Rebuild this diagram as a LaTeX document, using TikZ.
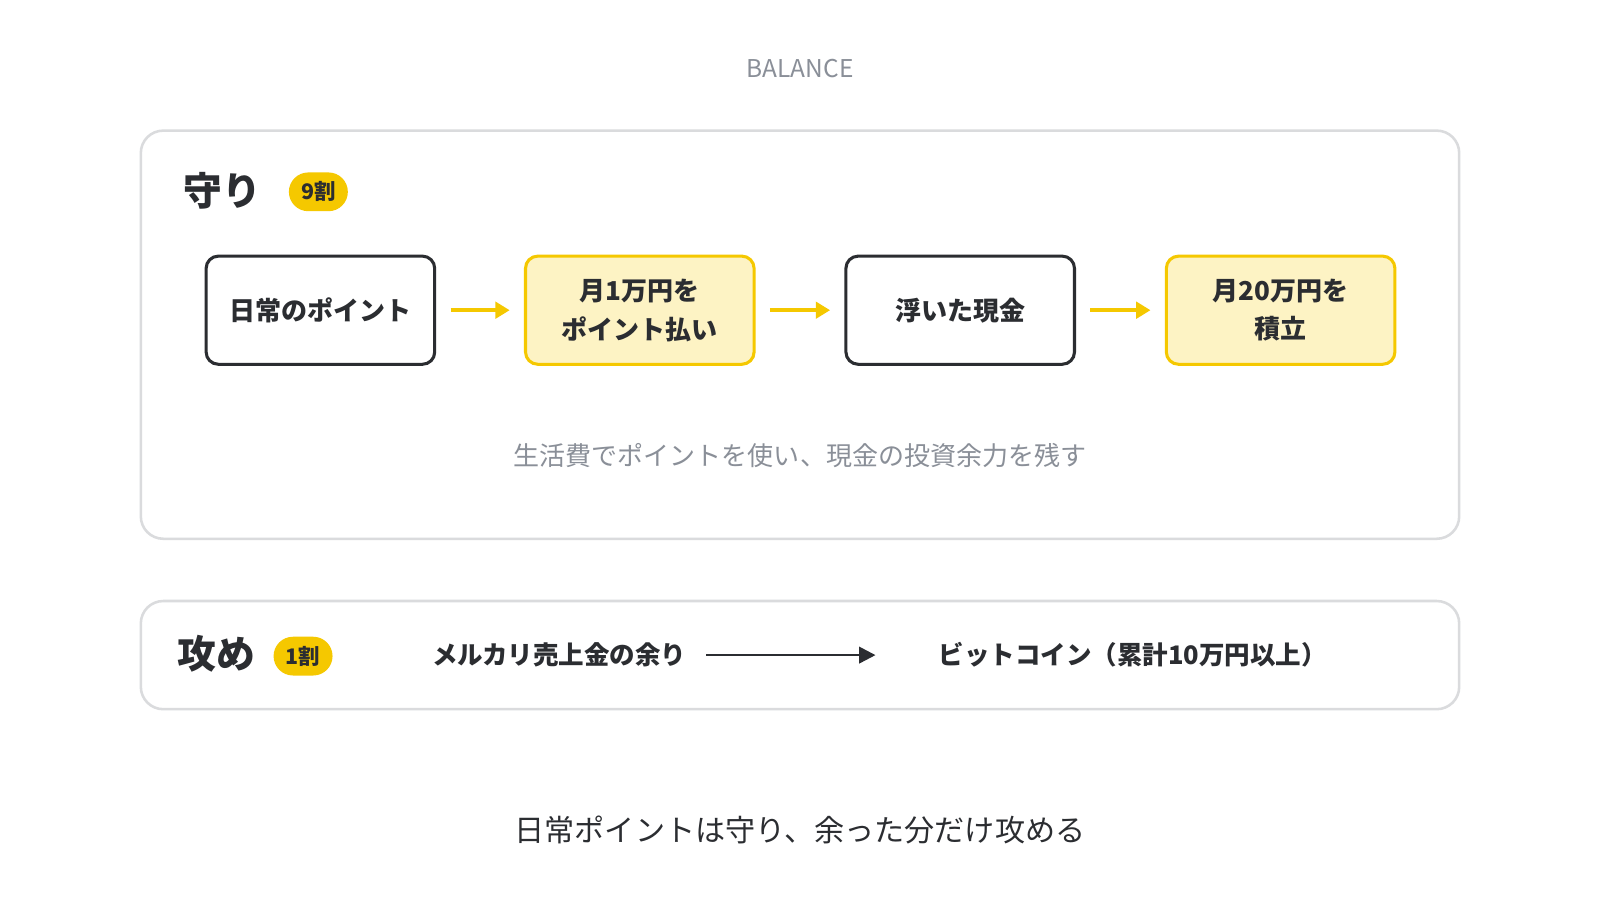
\documentclass[tikz,border=0pt]{standalone}
\usepackage{fontspec}
\setmainfont{Noto Sans CJK JP}
\usetikzlibrary{arrows.meta}
\definecolor{ybd}{HTML}{F5C800}
\definecolor{yfill}{HTML}{FDF3C4}
\definecolor{gbd}{HTML}{DADBDD}
\definecolor{gtx}{HTML}{8A8F98}
\definecolor{dark}{HTML}{2B2D31}
\tikzset{x=1pt,y=-1pt,
 stepbox/.style={draw=dark,line width=3pt,rounded corners=12pt,minimum width=224pt,minimum height=106pt,align=center,font=\fontsize{25.5}{38}\selectfont\bfseries,text=dark},
 ystepbox/.style={stepbox,draw=ybd,fill=yfill},
 panel/.style={draw=gbd,line width=2.5pt,rounded corners=22pt},
 badge/.style={fill=ybd,rounded corners=19pt,minimum height=38pt,inner xsep=12pt,font=\fontsize{21}{24}\selectfont\bfseries,text=dark},
 yarr/.style={draw=ybd,line width=4pt,-{Triangle[length=14pt,width=16pt]}},
 karr/.style={draw=dark,line width=2.5pt,-{Triangle[length=16pt,width=16pt]}},
 head/.style={font=\fontsize{38}{42}\selectfont\bfseries,text=dark},
 lbl/.style={font=\fontsize{25}{28}\selectfont\bfseries,text=dark}}
\begin{document}
\begin{tikzpicture}
\useasboundingbox (0,0) rectangle (1568,882);
\fill[white] (0,0) rectangle (1568,882);
\node[font=\fontsize{24}{26}\selectfont,text=gtx] (title) at (784,67) {BALANCE};
\draw[panel] (138,128) rectangle (1430,528);
\node[head] (mamori) at (218,187) {守り};
\node[badge] (b9) at (312,188) {9割};
\node[stepbox] (s1) at (314,304) {日常のポイント};
\node[ystepbox] (s2) at (627,304) {月1万円を\\ポイント払い};
\node[stepbox] (s3) at (941,304) {浮いた現金};
\node[ystepbox] (s4) at (1255,304) {月20万円を\\積立};
\draw[yarr] ([xshift=14pt]s1.east) -- ([xshift=-14pt]s2.west);
\draw[yarr] ([xshift=14pt]s2.east) -- ([xshift=-14pt]s3.west);
\draw[yarr] ([xshift=14pt]s3.east) -- ([xshift=-14pt]s4.west);
\node[font=\fontsize{25.5}{28}\selectfont,text=gtx] (cap) at (784,446) {生活費でポイントを使い、現金の投資余力を残す};
\draw[panel] (138,589) rectangle (1430,695);
\node[head] (seme) at (212,641) {攻め};
\node[badge] (b1) at (297,643) {1割};
\node[lbl] (m) at (548,642) {メルカリ売上金の余り};
\node[lbl] (btc) at (1110,642) {ビットコイン（累計10万円以上）};
\coordinate (me) at (858,642);
\draw[karr] ([xshift=16pt]m.east) -- (me);
\node[font=\fontsize{29.5}{32}\selectfont,text=dark] (foot) at (784,813) {日常ポイントは守り、余った分だけ攻める};
\end{tikzpicture}
\end{document}
